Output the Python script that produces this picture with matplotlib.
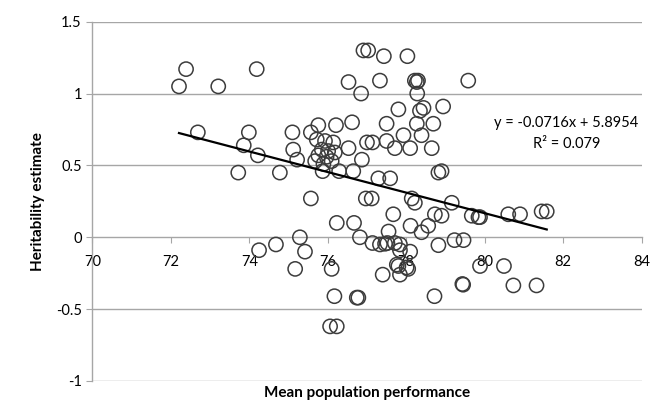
import matplotlib
matplotlib.use('Agg')
import matplotlib.pyplot as plt
import numpy as np

# mean performance / heritability estimate
performance = [
    72.21, 72.39, 73.21, 74.19, 72.69, 73.99, 73.86, 74.22, 73.72, 74.78,
    75.10, 75.12, 75.22, 75.57, 75.76, 76.21, 76.62, 76.53, 76.53, 76.91,
    77.03, 76.85, 75.57, 76.65, 76.29, 75.87, 75.72, 75.93, 76.14, 75.85,
    76.01, 76.18, 75.76, 75.97, 75.68, 75.89, 76.10, 76.87, 77.00, 77.14,
    77.50, 77.71, 77.93, 78.10, 78.39, 78.65, 78.27, 78.69, 77.50, 78.82,
    77.29, 77.59, 76.97, 77.12, 78.14, 78.22, 76.23, 76.67, 77.67, 78.73,
    78.90, 77.43, 78.03, 77.33, 78.22, 78.27, 78.30, 78.28, 77.80, 78.44,
    78.35, 79.58, 78.94, 78.90, 79.16, 78.11, 78.56, 78.39, 77.55, 79.67,
    79.84, 79.88, 80.60, 80.90, 81.45, 81.58, 75.29, 76.82, 77.14, 77.33,
    77.46, 77.52, 77.71, 77.84, 77.84, 78.10, 78.82, 79.23, 79.46, 75.42,
    76.10, 77.40, 77.76, 77.80, 77.84, 78.01, 78.05, 79.88, 80.49, 79.43,
    79.45, 80.73, 81.32, 78.72, 76.17, 76.74, 76.78, 76.06, 76.23, 74.25,
    74.68, 75.17,
]
heritability = [
    1.05, 1.17, 1.05, 1.17, 0.73, 0.73, 0.64, 0.57, 0.45, 0.45,
    0.73, 0.61, 0.54, 0.73, 0.78, 0.78, 0.80, 0.62, 1.08, 1.30,
    1.30, 1.00, 0.27, 0.46, 0.46, 0.46, 0.68, 0.67, 0.66, 0.61,
    0.60, 0.59, 0.57, 0.56, 0.53, 0.51, 0.53, 0.54, 0.66, 0.66,
    0.67, 0.62, 0.71, 0.62, 0.71, 0.62, 0.79, 0.79, 0.79, 0.45,
    0.41, 0.41, 0.27, 0.27, 0.27, 0.24, 0.10, 0.10, 0.16, 0.16,
    0.15, 1.26, 1.26, 1.09, 1.09, 1.08, 1.09, 1.00, 0.89, 0.90,
    0.88, 1.09, 0.91, 0.46, 0.24, 0.08, 0.08, 0.035, 0.04, 0.15,
    0.14, 0.14, 0.16, 0.16, 0.18, 0.18, 0.00, 0.00, -0.04, -0.05,
    -0.045, -0.04, -0.04, -0.05, -0.09, -0.10, -0.055, -0.02, -0.02, -0.10,
    -0.22, -0.26, -0.19, -0.20, -0.26, -0.21, -0.22, -0.20, -0.20, -0.325,
    -0.33, -0.335, -0.335, -0.41, -0.41, -0.42, -0.42, -0.62, -0.62, -0.09,
    -0.05, -0.22,
]
slope = -0.0716
intercept = 5.8954
r_squared = 0.079

x_ticks = [70, 72, 74, 76, 78, 80, 82, 84]
y_ticks = [-1, -0.5, 0, 0.5, 1, 1.5]

plt.rcParams['font.family'] = ['Lato', 'DejaVu Sans']

fig = plt.figure(figsize=(6.53, 4.07), dpi=100)
ax = fig.add_axes([0.1413, 0.0639, 0.8414, 0.8828])

ax.set_xlim(70, 84)
ax.set_ylim(-1, 1.5)

ax.set_yticks(y_ticks)
ax.set_yticklabels(['-1', '-0.5', '0', '0.5', '1', '1.5'])
ax.set_xticks(x_ticks)
ax.set_xticklabels([str(t) for t in x_ticks])

for yv in y_ticks:
    if yv != 0:
        ax.axhline(yv, color='#a6a6a6', lw=1.0, zorder=0)

for s in ['top', 'right']:
    ax.spines[s].set_visible(False)
ax.spines['bottom'].set_position(('data', 0))
ax.spines['bottom'].set_color('#a6a6a6')
ax.spines['left'].set_color('#a6a6a6')
ax.spines['bottom'].set_linewidth(1.0)
ax.spines['left'].set_linewidth(1.0)
ax.tick_params(axis='both', direction='out', length=4, color='#a6a6a6',
               labelsize=10.5, labelcolor='black')
ax.tick_params(axis='x', pad=9)

ax.scatter(performance, heritability, s=105, facecolors='none',
           edgecolors='#3c3c3c', linewidths=1.1, zorder=3)

xs = np.array([min(performance), max(performance)])
ax.plot(xs, slope * xs + intercept, color='black', lw=1.6, zorder=4)

ax.text(0.863, 0.69, 'y = %.4fx + %.4f\nR² = %.3f' % (slope, intercept, r_squared),
        transform=ax.transAxes, ha='center', va='center', fontsize=10.5,
        linespacing=1.65)

ax.set_ylabel('Heritability estimate', fontsize=11, fontweight='bold', labelpad=8)
fig.text(0.562, 0.035, 'Mean population performance', ha='center', va='center',
         fontsize=11, fontweight='bold')

fig.savefig('out.png', dpi=100)
